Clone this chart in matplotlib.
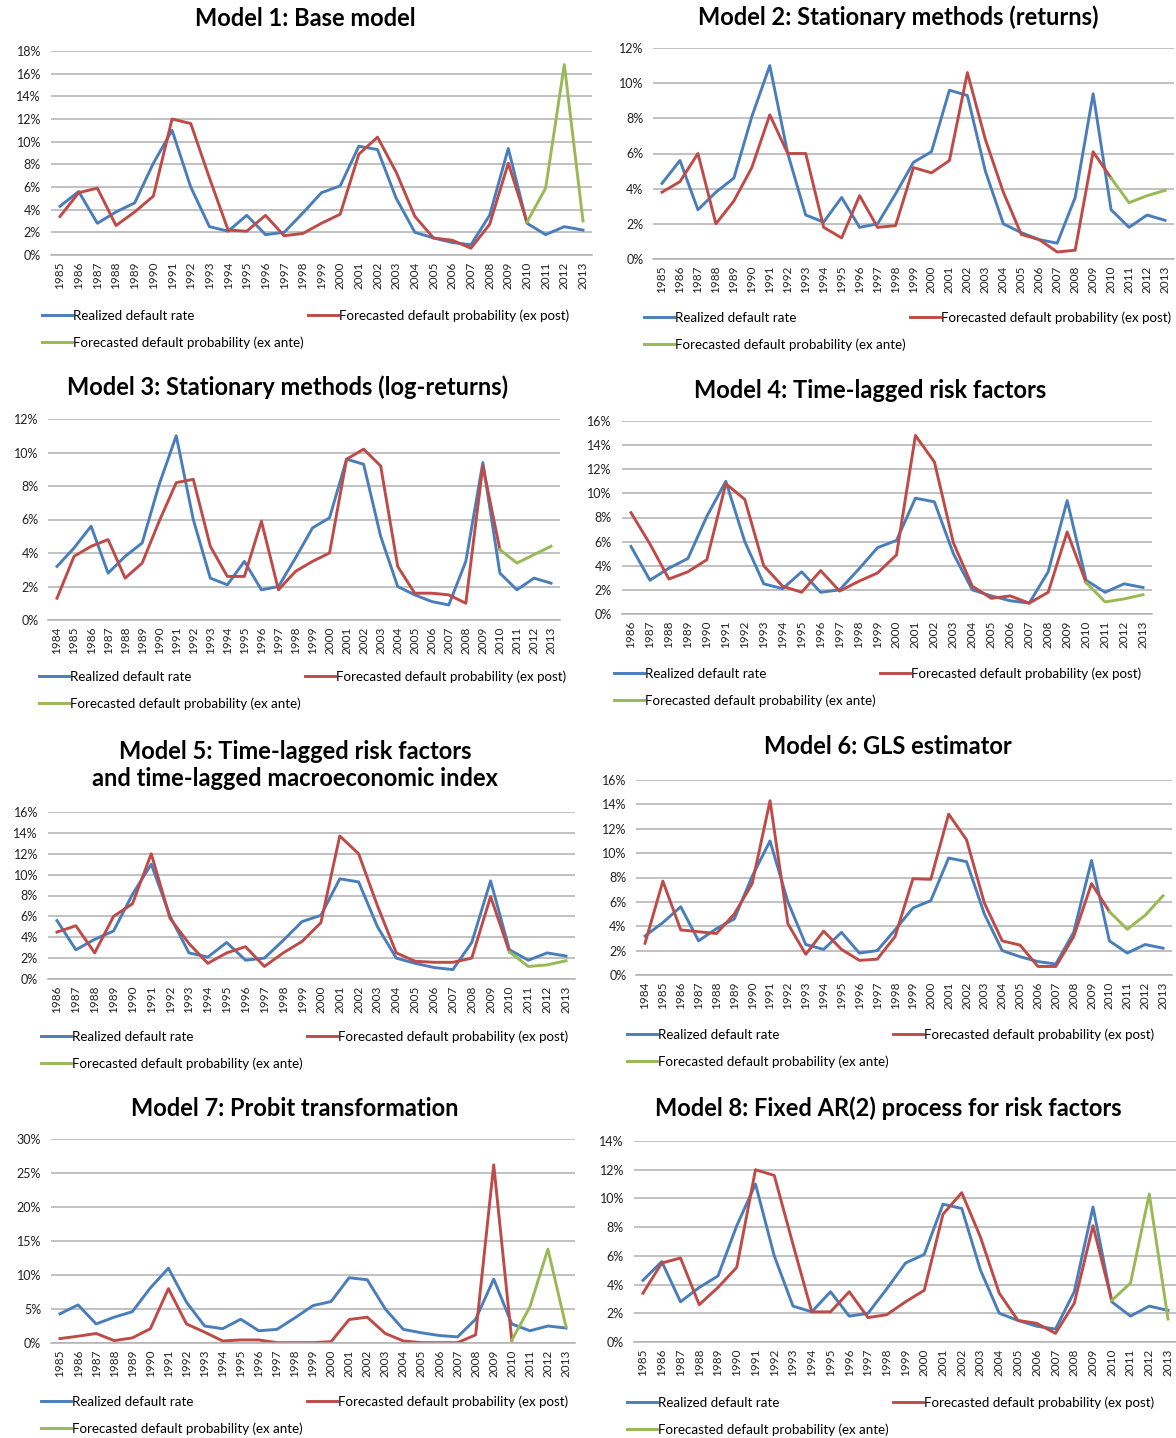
import matplotlib
matplotlib.use("Agg")
import matplotlib.pyplot as plt
from matplotlib.ticker import FuncFormatter

plt.rcParams['font.family'] = ['Lato', 'DejaVu Sans']

W, H = 1176, 1438

# realized default rate, 1984-2013 (%)
realized_years = list(range(1984, 2014))
realized = [3.2, 4.3, 5.6, 2.8, 3.8, 4.6, 8.1, 11.0, 6.0, 2.5, 2.1, 3.5, 1.8, 2.0, 3.7,
            5.5, 6.1, 9.6, 9.3, 5.0, 2.0, 1.5, 1.1, 0.9, 3.5, 9.4, 2.8, 1.8, 2.5, 2.2]

# forecasted default probability ex post (first year .. 2010)
m1_post = [3.4, 5.5, 5.9, 2.6, 3.8, 5.2, 12.0, 11.6, 6.8, 2.2, 2.1, 3.5, 1.7, 1.9, 2.8, 3.6,
           8.9, 10.4, 7.3, 3.4, 1.5, 1.3, 0.6, 2.7, 8.1, 2.9]
m2_post = [3.8, 4.4, 6.0, 2.0, 3.3, 5.2, 8.2, 6.0, 6.0, 1.8, 1.2, 3.6, 1.8, 1.9, 5.2, 4.9,
           5.6, 10.6, 6.8, 3.8, 1.4, 1.1, 0.4, 0.5, 6.1, 4.6]
m3_post = [1.3, 3.8, 4.4, 4.8, 2.5, 3.4, 5.9, 8.2, 8.4, 4.4, 2.6, 2.6, 5.9, 1.8, 2.9, 3.5,
           4.0, 9.6, 10.2, 9.2, 3.2, 1.6, 1.6, 1.5, 1.0, 9.2, 4.2]
m4_post = [8.4, 5.8, 2.9, 3.5, 4.5, 10.8, 9.5, 4.0, 2.3, 1.8, 3.6, 1.9, 2.7, 3.4, 4.9,
           14.8, 12.6, 5.9, 2.3, 1.3, 1.5, 0.9, 1.8, 6.8, 2.6]
m5_post = [4.5, 5.1, 2.5, 6.0, 7.2, 12.0, 5.8, 3.4, 1.5, 2.5, 3.1, 1.2, 2.5, 3.6, 5.4,
           13.7, 12.0, 7.0, 2.5, 1.7, 1.6, 1.6, 2.0, 7.9, 2.6]
m6_post = [2.6, 7.7, 3.7, 3.55, 3.4, 5.0, 7.5, 14.3, 4.2, 1.7, 3.6, 2.1, 1.2, 1.3, 3.15,
           7.9, 7.85, 13.2, 11.1, 5.9, 2.8, 2.45, 0.7, 0.7, 3.15, 7.5, 5.2]
m7_post = [0.65, 1.0, 1.4, 0.35, 0.75, 2.1, 8.0, 2.8, 1.6, 0.3, 0.45, 0.45, 0.05, 0.05,
           0.05, 0.2, 3.45, 3.8, 1.4, 0.3, 0.05, 0.05, 0.05, 1.2, 26.2, 0.4]
m8_post = [3.4, 5.5, 5.85, 2.6, 3.8, 5.2, 12.0, 11.6, 6.8, 2.1, 2.1, 3.5, 1.7, 1.9, 2.8, 3.6,
           8.9, 10.4, 7.3, 3.4, 1.5, 1.3, 0.6, 2.7, 8.1, 2.9]

# forecasted default probability ex ante, 2010-2013
ante_years = [2010, 2011, 2012, 2013]
m1_ante = [2.9, 5.9, 16.8, 3.0]
m2_ante = [4.6, 3.2, 3.6, 3.9]
m3_ante = [4.2, 3.4, 3.9, 4.4]
m4_ante = [2.6, 1.0, 1.25, 1.6]
m5_ante = [2.6, 1.2, 1.35, 1.75]
m6_ante = [5.2, 3.75, 4.9, 6.5]
m7_ante = [0.4, 5.3, 13.8, 2.4]
m8_ante = [2.9, 4.1, 10.3, 1.6]

titles = ["Model 1: Base model",
          "Model 2: Stationary methods (returns)",
          "Model 3: Stationary methods (log-returns)",
          "Model 4: Time-lagged risk factors",
          "Model 5: Time-lagged risk factors\nand time-lagged macroeconomic index",
          "Model 6: GLS estimator",
          "Model 7: Probit transformation",
          "Model 8: Fixed AR(2) process for risk factors"]
start_years = [1985, 1985, 1984, 1986, 1986, 1984, 1985, 1985]
y_max = [18, 12, 12, 16, 16, 16, 30, 14]
y_step = [2, 2, 2, 2, 2, 2, 5, 2]
post = [m1_post, m2_post, m3_post, m4_post, m5_post, m6_post, m7_post, m8_post]
ante = [m1_ante, m2_ante, m3_ante, m4_ante, m5_ante, m6_ante, m7_ante, m8_ante]

# layout in pixels: (first label x, last label x, top grid y, zero y, title x, title y, legend x, legend y)
layout = [(60, 583, 51, 255, 305, 19, 42, 316),
          (662, 1165, 48, 259, 898, 17, 644, 318),
          (57, 551, 419, 620, 288, 387, 39, 677),
          (631, 1143, 421, 614, 870, 390, 614, 674),
          (57, 566, 812, 979, 295, 765, 41, 1037),
          (645, 1163, 780, 975, 888, 747, 627, 1035),
          (60, 566, 1139, 1343, 295, 1108, 41, 1402),
          (643, 1168, 1141, 1342, 888, 1108, 627, 1403)]

blue = "#4a7ebb"
red = "#be4b48"
green = "#98b954"

fig = plt.figure(figsize=(W / 100, H / 100), dpi=100)

for i in range(8):
    x0, x1, ytop, ybot, tx, ty, lx, ly = layout[i]
    s = start_years[i]
    n = 2013 - s + 1
    sp = (x1 - x0) / (n - 1)
    left = x0 - sp / 2
    right = x1 + sp / 2
    ax = fig.add_axes([left / W, 1 - ybot / H, (right - left) / W, (ybot - ytop) / H])

    yrs = realized_years[realized_years.index(s):]
    rl = realized[realized_years.index(s):]
    post_years = list(range(s, 2011))
    lb, = ax.plot(yrs, rl, color=blue, lw=2.1, label="Realized default rate")
    lr, = ax.plot(post_years, post[i], color=red, lw=2.1,
                  label="Forecasted default probability (ex post)")
    lg, = ax.plot(ante_years, ante[i], color=green, lw=2.1,
                  label="Forecasted default probability (ex ante)")

    ax.set_xlim(s - 0.5, 2013.5)
    ax.set_ylim(0, y_max[i])
    ax.set_yticks(range(0, y_max[i] + 1, y_step[i]))
    ax.yaxis.set_major_formatter(FuncFormatter(lambda v, p: "%d%%" % v))
    ax.set_xticks(yrs)
    ax.set_xticklabels([str(y) for y in yrs], rotation=90)
    ax.tick_params(axis='both', length=0, colors="#222222")
    ax.tick_params(axis='x', pad=5, labelsize=8.5)
    ax.tick_params(axis='y', pad=7, labelsize=9)
    ax.yaxis.grid(True, color="#b0b0b0", lw=1.1)
    ax.set_axisbelow(True)
    for sname in ["top", "left", "right"]:
        ax.spines[sname].set_visible(False)
    ax.spines["bottom"].set_color("#b0b0b0")
    ax.spines["bottom"].set_linewidth(1.1)
    ax.patch.set_alpha(0)

    fig.text(tx / W, 1 - ty / H, titles[i], ha="center", va="center",
             fontsize=17, fontweight="bold", linespacing=1.25)

    fig.legend(handles=[lb, lg, lr], loc="upper left",
               bbox_to_anchor=(lx / W, 1 - (ly - 7) / H), ncol=2, frameon=False,
               fontsize=9.6, handlelength=2.25, handletextpad=0.1, columnspacing=0.3,
               labelspacing=1.1, borderpad=0, borderaxespad=0)

fig.savefig("out.png", dpi=100)
